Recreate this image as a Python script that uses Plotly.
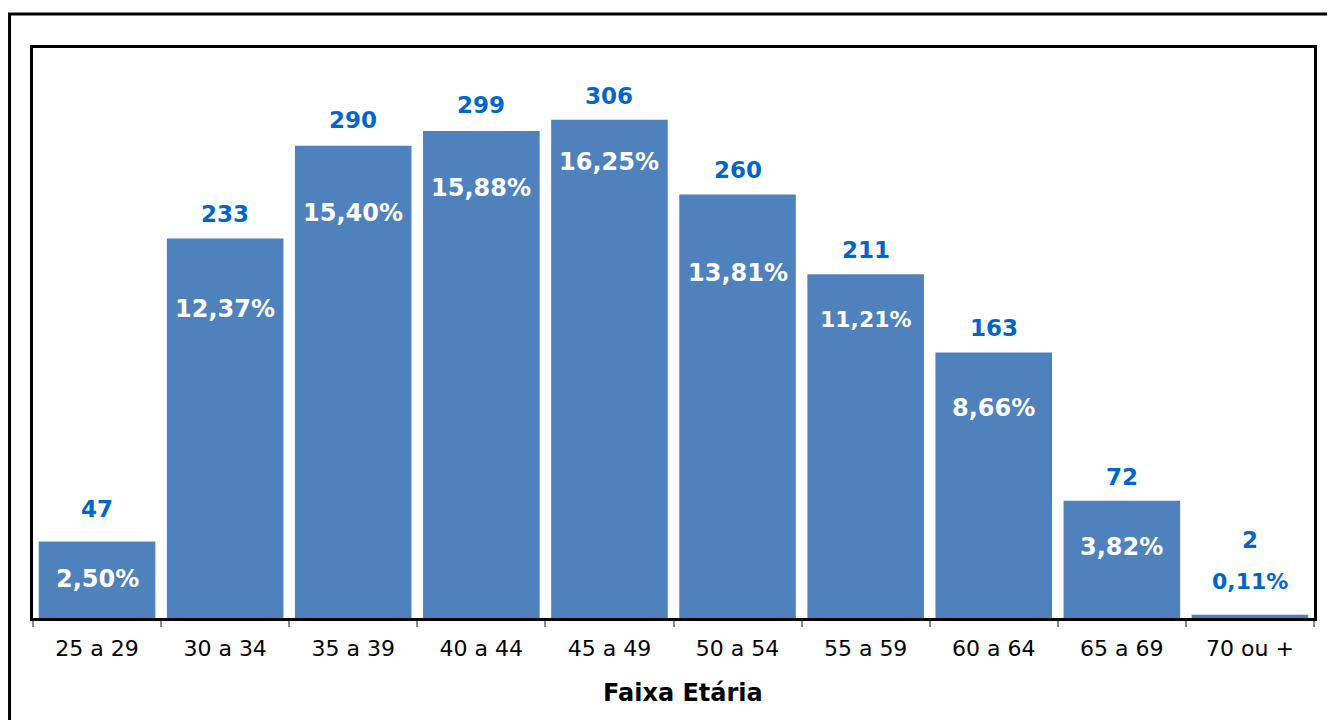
import plotly.graph_objects as go

categories = ["25 a 29", "30 a 34", "35 a 39", "40 a 44", "45 a 49",
              "50 a 54", "55 a 59", "60 a 64", "65 a 69", "70 ou +"]
counts = [47, 233, 290, 299, 306, 260, 211, 163, 72, 2]
percent_labels = ["2,50%", "12,37%", "15,40%", "15,88%", "16,25%",
                  "13,81%", "11,21%", "8,66%", "3,82%", "0,11%"]
x_title = "Faixa Etária"

# label placement (data units) - layout only
count_label_y = [67, 248.3, 305.5, 315.3, 320.8, 275.3, 226.2, 178.2, 86.7, 47.9]
pct_label_y = [24.0, 189.9, 248.9, 264.3, 280.3, 212.0, 183.2, 129.1, 43.6, 22.7]
pct_label_size = [24, 24, 24, 24, 24, 24, 22, 24, 24, 22]
pct_label_color = ["white"] * 9 + ["#0066CC"]

FONT = "Verdana, DejaVu Sans, sans-serif"
BAR = "#4F81BD"
LBL = "#0066CC"

fig = go.Figure(go.Bar(x=categories, y=counts, marker=dict(color=BAR, line=dict(width=0)),
                       hoverinfo="x+y"))

ann = []
for c, v, y in zip(categories, counts, count_label_y):
    ann.append(dict(x=c, y=y, text=f"<b>{v}</b>", showarrow=False,
                    font=dict(family=FONT, size=23, color=LBL), xref="x", yref="y"))
for c, t, y, s, col in zip(categories, percent_labels, pct_label_y, pct_label_size, pct_label_color):
    ann.append(dict(x=c, y=y, text=f"<b>{t}</b>", showarrow=False,
                    font=dict(family=FONT, size=s, color=col), xref="x", yref="y"))
ann.append(dict(x=0.5, y=-0.1316, xref="paper", yref="paper", xshift=9,
                text=f"<b>{x_title}</b>", showarrow=False, yanchor="middle",
                font=dict(family=FONT, size=24, color="black")))

fig.update_layout(
    width=1327, height=712,
    margin=dict(l=25, r=21, t=40, b=102),
    paper_bgcolor="white", plot_bgcolor="white",
    bargap=0.09,
    showlegend=False,
    font=dict(family=FONT, color="black"),
    annotations=ann,
    xaxis=dict(
        showline=True, linecolor="black", linewidth=3, mirror=True,
        ticks="outside", tickson="boundaries", ticklen=6, tickcolor="#888888", tickwidth=1.5,
        ticklabelstandoff=9,
        tickfont=dict(family=FONT, size=22, color="black"),
        showgrid=False,
    ),
    yaxis=dict(
        range=[0, 350], showline=True, linecolor="black", linewidth=3, mirror=True,
        showticklabels=False, showgrid=False, zeroline=False, ticks="",
    ),
    shapes=[dict(type="rect", xref="paper", yref="paper",
                 x0=-0.0183, x1=1.05, y0=-0.3, y1=1.0596,
                 line=dict(color="black", width=3), fillcolor="rgba(0,0,0,0)", layer="below")],
)

fig.write_html("out.html")
